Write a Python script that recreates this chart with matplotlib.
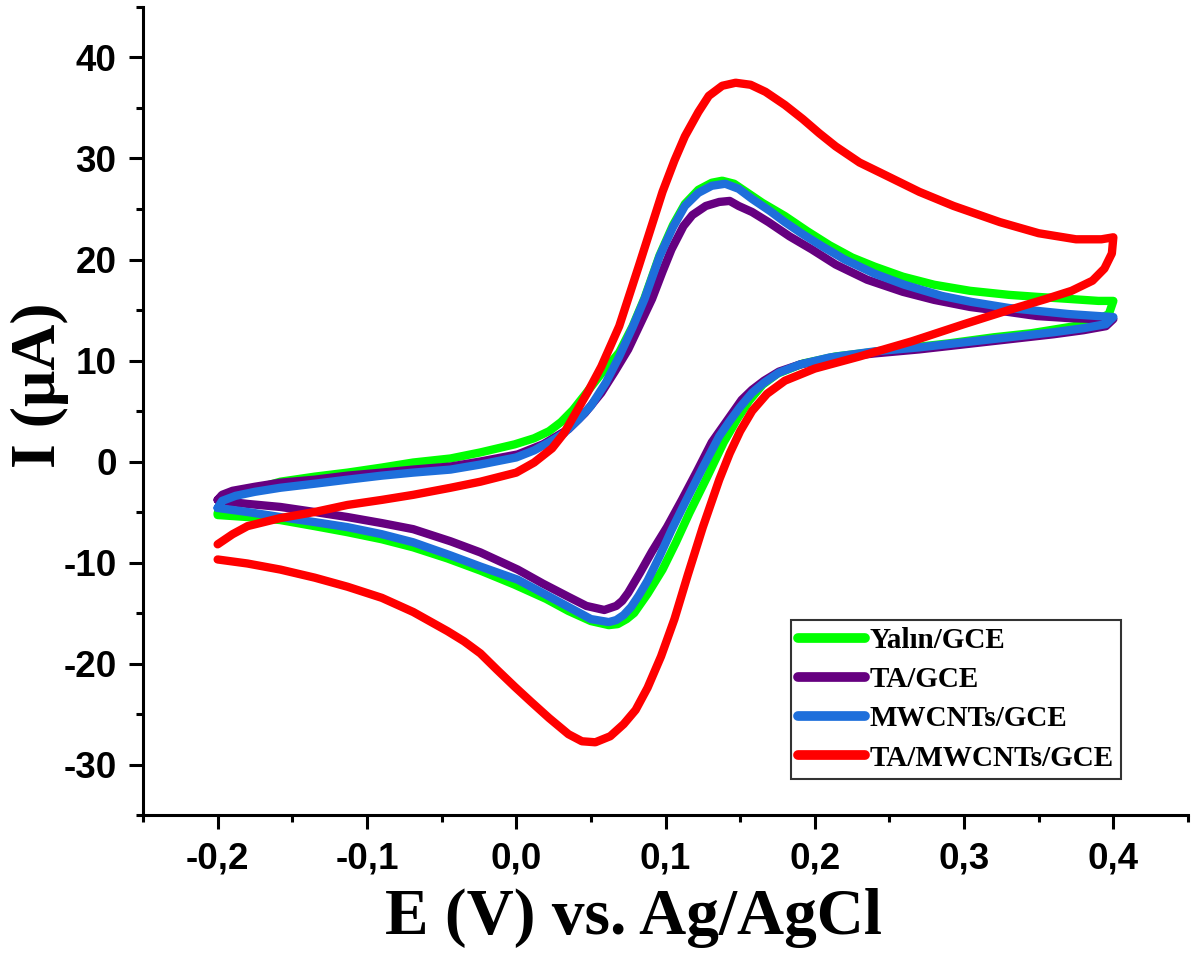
import matplotlib
matplotlib.use("Agg")
import matplotlib.pyplot as plt
from matplotlib.ticker import MultipleLocator, FuncFormatter

# ---------------- data (E in V, I in uA) ----------------
labels = ["Yalın/GCE", "TA/GCE", "MWCNTs/GCE", "TA/MWCNTs/GCE"]
colors = ["#00FF00", "#660080", "#1E6FDB", "#FF0000"]

green_E = [-0.200, -0.195, -0.185, -0.170, -0.158, -0.135, -0.113, -0.090, -0.069, -0.044, -0.024, -0.001,
           0.012, 0.022, 0.030, 0.038, 0.046, 0.057, 0.069, 0.078, 0.086, 0.096, 0.105, 0.113, 0.122, 0.131,
           0.138, 0.146, 0.155, 0.165, 0.180, 0.195, 0.210, 0.225, 0.240, 0.259, 0.280, 0.304, 0.330, 0.349,
           0.370, 0.390, 0.400,
           0.397, 0.385, 0.370, 0.345, 0.320, 0.290, 0.260, 0.237, 0.214, 0.192, 0.175, 0.165, 0.156, 0.148,
           0.139, 0.128, 0.116, 0.107, 0.098, 0.088, 0.079, 0.074, 0.068, 0.062, 0.050, 0.035, 0.020, -0.001,
           -0.024, -0.046, -0.069, -0.090, -0.113, -0.135, -0.158, -0.180, -0.200]
green_I = [-5.1, -4.0, -3.1, -2.5, -2.0, -1.5, -1.1, -0.6, -0.1, 0.3, 0.9, 1.7,
           2.3, 3.0, 3.9, 5.1, 6.6, 8.7, 10.8, 13.4, 16.2, 20.4, 23.4, 25.5, 26.9, 27.6,
           27.8, 27.5, 26.6, 25.6, 24.3, 22.8, 21.4, 20.2, 19.3, 18.3, 17.5, 16.9, 16.5, 16.3,
           16.1, 15.9, 15.9,
           14.6, 13.7, 13.3, 12.7, 12.3, 11.7, 11.2, 10.8, 10.4, 9.7, 8.7, 7.6, 6.0, 4.2,
           1.9, -1.5, -5.1, -8.0, -10.7, -13.1, -15.0, -15.6, -16.1, -16.2, -15.8, -14.8, -13.6, -12.2,
           -10.8, -9.6, -8.5, -7.7, -7.0, -6.4, -5.8, -5.5, -5.3]

purple_E = [-0.200, -0.197, -0.190, -0.175, -0.158, -0.135, -0.113, -0.090, -0.069, -0.044, -0.024, 0.001,
            0.018, 0.035, 0.046, 0.057, 0.066, 0.075, 0.083, 0.091, 0.098, 0.104, 0.112, 0.118, 0.127, 0.136,
            0.143, 0.149, 0.158, 0.169, 0.183, 0.198, 0.214, 0.235, 0.259, 0.280, 0.304, 0.330, 0.349, 0.370,
            0.390, 0.400,
            0.395, 0.380, 0.360, 0.330, 0.300, 0.270, 0.240, 0.210, 0.190, 0.176, 0.166, 0.158, 0.151, 0.141,
            0.131, 0.121, 0.111, 0.101, 0.091, 0.083, 0.079, 0.075, 0.071, 0.067, 0.059, 0.047, 0.035, 0.018,
            0.001, -0.024, -0.044, -0.069, -0.090, -0.113, -0.135, -0.158, -0.180, -0.192, -0.200]
purple_I = [-3.8, -3.3, -2.9, -2.5, -2.1, -1.8, -1.4, -1.1, -0.8, -0.5, 0.0, 0.7,
            1.7, 3.2, 4.8, 6.8, 8.9, 11.1, 13.6, 16.1, 18.8, 21.0, 23.3, 24.4, 25.3, 25.7,
            25.8, 25.3, 24.7, 23.7, 22.3, 21.0, 19.5, 18.0, 16.8, 16.0, 15.3, 14.8, 14.4, 14.2,
            14.1, 14.1,
            13.4, 13.0, 12.6, 12.1, 11.6, 11.1, 10.7, 10.2, 9.6, 8.9, 8.0, 7.1, 6.1, 4.0,
            1.9, -1.0, -3.8, -6.5, -8.9, -11.0, -12.0, -13.0, -13.8, -14.3, -14.7, -14.3, -13.4, -12.1,
            -10.7, -9.0, -7.9, -6.7, -6.1, -5.5, -5.0, -4.5, -4.2, -4.0, -3.8]

blue_E = [-0.200, -0.197, -0.188, -0.175, -0.158, -0.135, -0.113, -0.090, -0.069, -0.044, -0.024, 0.000,
          0.012, 0.022, 0.032, 0.042, 0.050, 0.060, 0.069, 0.078, 0.086, 0.096, 0.105, 0.113, 0.122, 0.131,
          0.140, 0.149, 0.158, 0.170, 0.180, 0.192, 0.205, 0.220, 0.240, 0.260, 0.285, 0.305, 0.330, 0.350,
          0.370, 0.390, 0.400,
          0.395, 0.380, 0.360, 0.330, 0.300, 0.270, 0.240, 0.210, 0.190, 0.176, 0.166, 0.158, 0.150, 0.143,
          0.136, 0.125, 0.113, 0.104, 0.096, 0.088, 0.082, 0.077, 0.072, 0.067, 0.062, 0.050, 0.035, 0.020,
          0.001, -0.024, -0.044, -0.069, -0.090, -0.113, -0.135, -0.158, -0.180, -0.200]
blue_I = [-4.6, -3.9, -3.4, -3.0, -2.6, -2.2, -1.8, -1.4, -1.1, -0.8, -0.3, 0.4,
          1.1, 1.9, 2.8, 4.2, 5.5, 7.8, 10.4, 13.3, 16.1, 20.3, 23.2, 25.3, 26.6, 27.3,
          27.5, 27.0, 26.0, 24.8, 23.7, 22.5, 21.3, 20.0, 18.6, 17.5, 16.4, 15.8, 15.2, 14.9,
          14.6, 14.4, 14.3,
          13.6, 13.2, 12.8, 12.3, 11.8, 11.3, 10.9, 10.3, 9.6, 8.8, 7.8, 6.8, 5.4, 4.0,
          2.5, -0.6, -4.1, -6.8, -9.4, -11.8, -13.3, -14.4, -15.2, -15.7, -15.9, -15.6, -14.4, -13.2,
          -11.7, -10.4, -9.3, -8.0, -7.2, -6.5, -6.0, -5.5, -5.0, -4.6]

red_E = [-0.200, -0.190, -0.180, -0.158, -0.135, -0.113, -0.090, -0.069, -0.044, -0.024, 0.000, 0.012,
         0.024, 0.032, 0.039, 0.048, 0.057, 0.069, 0.082, 0.098, 0.106, 0.113, 0.122, 0.129, 0.138, 0.147,
         0.157, 0.167, 0.180, 0.192, 0.203, 0.214, 0.230, 0.248, 0.270, 0.293, 0.324, 0.350, 0.375, 0.392,
         0.400,
         0.399, 0.394, 0.386, 0.372, 0.355, 0.330, 0.300, 0.265, 0.230, 0.200, 0.180, 0.168, 0.158, 0.150,
         0.143, 0.136, 0.125, 0.115, 0.106, 0.097, 0.088, 0.080, 0.072, 0.063, 0.053, 0.044, 0.035, 0.022,
         0.010, -0.001, -0.013, -0.024, -0.035, -0.046, -0.069, -0.090, -0.113, -0.135, -0.158, -0.180,
         -0.200]
red_I = [-8.2, -7.2, -6.4, -5.6, -5.0, -4.3, -3.8, -3.3, -2.6, -2.0, -1.1, -0.1,
         1.3, 2.8, 4.6, 6.9, 9.4, 13.4, 19.3, 26.7, 29.8, 32.2, 34.6, 36.2, 37.2, 37.5,
         37.3, 36.6, 35.3, 33.9, 32.5, 31.2, 29.6, 28.3, 26.7, 25.3, 23.7, 22.6, 22.0, 22.0,
         22.2,
         20.6, 19.1, 17.9, 16.9, 16.1, 15.0, 13.6, 11.9, 10.4, 9.2, 8.0, 6.7, 5.0, 3.0,
         0.8, -1.8, -6.5, -11.2, -15.6, -19.3, -22.4, -24.6, -26.0, -27.2, -27.8, -27.7, -27.0, -25.4,
         -23.8, -22.3, -20.6, -19.0, -17.8, -16.8, -14.9, -13.5, -12.4, -11.5, -10.7, -10.1,
         -9.7]

x_ticks = [-0.2, -0.1, 0.0, 0.1, 0.2, 0.3, 0.4]
y_ticks = [-30, -20, -10, 0, 10, 20, 30, 40]

series = [(green_E, green_I), (purple_E, purple_I), (blue_E, blue_I), (red_E, red_I)]

# ---------------- figure ----------------
plt.rcParams["font.family"] = ["Liberation Sans", "DejaVu Sans"]
plt.rcParams["font.weight"] = "bold"

fig = plt.figure(figsize=(12.03, 9.56), dpi=100)
ax = fig.add_axes([143 / 1203, (956 - 815) / 956, (1188 - 143) / 1203, (815 - 7) / 956])

for (E, I), c, lab in zip(series, colors, labels):
    ax.plot(E, I, color=c, lw=6, label=lab, solid_capstyle="round", solid_joinstyle="round")

ax.set_xlim(-0.25, 0.45)
ax.set_ylim(-35, 45)
ax.set_xticks(x_ticks)
ax.set_yticks(y_ticks)
ax.xaxis.set_minor_locator(MultipleLocator(0.05))
ax.yaxis.set_minor_locator(MultipleLocator(5))
ax.xaxis.set_major_formatter(FuncFormatter(lambda v, p: ("%.1f" % (v + 0.0)).replace("-0.0", "0.0").replace(".", ",")))
ax.yaxis.set_major_formatter(FuncFormatter(lambda v, p: "%d" % round(v)))

for s in ["top", "right"]:
    ax.spines[s].set_visible(False)
for s in ["left", "bottom"]:
    ax.spines[s].set_linewidth(2.2)

ax.tick_params(which="major", direction="out", length=10, width=2.2, labelsize=26.5, pad=9)
ax.tick_params(which="minor", direction="out", length=5, width=2.2)

serif = ["Liberation Serif", "DejaVu Serif"]
ax.set_xlabel("E (V) vs. Ag/AgCl", fontsize=47, fontweight="bold", family=serif)
ax.xaxis.set_label_coords(0.469, -0.128)
ax.xaxis.label.set_va("center")
ax.set_ylabel("I (μA)", fontsize=46, fontweight="bold", family=serif)
ax.yaxis.set_label_coords(-0.099, 0.532)
ax.yaxis.label.set_va("center")

leg = ax.legend(loc="lower left", bbox_to_anchor=(0.620, 0.0446), borderaxespad=0,
                prop={"family": serif, "weight": "bold", "size": 21},
                fancybox=False, framealpha=1, edgecolor="#333333",
                handlelength=2.3, handletextpad=0.15, labelspacing=0.42, borderpad=0.25)
leg.get_frame().set_linewidth(1.5)
for h in leg.get_lines():
    h.set_linewidth(7)

fig.savefig("out.png", dpi=100, facecolor="white")
